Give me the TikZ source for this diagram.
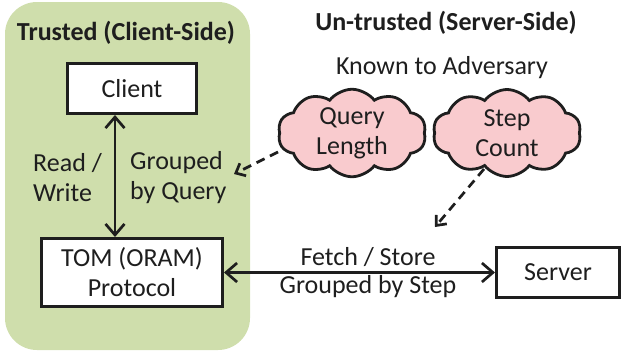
\documentclass[tikz,border=0pt]{standalone}
\usepackage{fontspec}
\setmainfont{Carlito}
\usetikzlibrary{arrows.meta,shapes.symbols}
\definecolor{trustgreen}{RGB}{207,222,172}
\definecolor{cloudpink}{RGB}{249,203,206}
\definecolor{ink}{RGB}{30,30,30}
\begin{document}
\begin{tikzpicture}[x=1pt,y=-1pt,
  txt/.style={font=\fontsize{26}{30}\selectfont, text=ink, inner sep=0pt},
  ttl/.style={font=\fontsize{26}{30}\selectfont\bfseries, text=ink, inner sep=0pt},
  boxnode/.style={draw=ink, line width=3pt, fill=white, inner sep=0pt, align=center,
    font=\fontsize{26}{30}\selectfont, text=ink},
  puff/.style={cloud, cloud puffs=10, cloud puff arc=105, aspect=1.67, draw=ink, fill=cloudpink,
    line width=2.8pt, minimum width=148pt, minimum height=87pt, inner sep=0pt,
    align=center, font=\fontsize{26}{30}\selectfont, text=ink},
  twoway/.style={draw=ink, line width=2.7pt,
    {Straight Barb[length=11pt,width=19pt,line width=2.7pt]}-{Straight Barb[length=11pt,width=19pt,line width=2.7pt]}},
  hint/.style={draw=ink, line width=2.7pt, dash pattern=on 9pt off 6pt,
    -{Straight Barb[length=8pt,width=14pt,line width=2.7pt]}}
]
\useasboundingbox (0,0) rectangle (624,354);
\fill[trustgreen, rounded corners=32pt] (5,2) rectangle (250,350);

\node[ttl] (ttrust) at (126,33) {Trusted (Client-Side)};
\node[ttl] (tuntrust) at (446,23) {Un-trusted (Server-Side)};
\node[txt] (known) at (442,68) {Known to Adversary};

\node[boxnode, minimum width=129pt, minimum height=50pt] (client) at (132,88.5) {Client};
\node[boxnode, minimum width=181pt, minimum height=68pt] (tom) at (132,272.5) {TOM (ORAM)\\Protocol};
\node[boxnode, minimum width=123pt, minimum height=50pt] (server) at (558,272.5) {Server};

\coordinate (va) at (115,0);
\draw[twoway] (client.south -| va) -- (tom.north -| va);
\node[txt, align=left, anchor=west] (rw) at (33,178) {Read /\\Write};
\node[txt, align=left, anchor=west] (gq) at (130,178) {Grouped\\by Query};

\draw[twoway] (tom.east) -- (server.west);
\node[txt, align=center, font=\fontsize{26}{28}\selectfont] (fs) at (368,273) {Fetch / Store\\Grouped by Step};

\node[puff] (qcloud) at (352,133) {Query\\Length};
\node[puff] (scloud) at (507,133) {Step\\Count};

\coordinate (qstart) at (278,152);
\coordinate (qend) at (234,174);
\coordinate (sstart) at (484,169);
\coordinate (send) at (435,227);
\draw[hint] (qstart) -- (qend);
\draw[hint] (sstart) -- (send);
\end{tikzpicture}
\end{document}
